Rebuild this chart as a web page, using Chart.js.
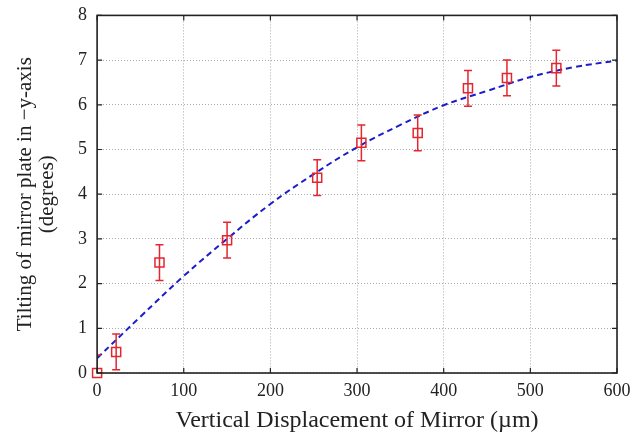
<!DOCTYPE html>
<html>
<head>
<meta charset="utf-8">
<script src="https://cdn.jsdelivr.net/npm/chart.js@4/dist/chart.umd.min.js"></script>
<style>
  body { margin: 0; background: #fff; }
  #wrap { width: 641px; height: 433px; }
</style>
</head>
<body>
<div id="wrap"><canvas id="chartTilt"></canvas></div>
<script>
// mért pontok
const dispX = [0, 22, 72, 150, 254, 305, 370, 428, 473, 530];
const tiltY = [0, 0.47, 2.47, 2.97, 4.37, 5.15, 5.37, 6.37, 6.60, 6.82];
const tiltErr = [0.4, 0.4, 0.4, 0.4, 0.4, 0.4, 0.4, 0.4, 0.4, 0.4];

// illesztett görbe (leolvasva)
const fitX = [0, 50, 100, 150, 200, 250, 300, 350, 400, 450, 500, 550, 600];
const fitY = [0.33, 1.26, 2.17, 3.0, 3.78, 4.45, 5.05, 5.55, 5.99, 6.31, 6.62, 6.84, 6.99];

const xTicks = [0, 100, 200, 300, 400, 500, 600];
const yTicks = [0, 1, 2, 3, 4, 5, 6, 7, 8];

const serif = "'Liberation Serif', 'DejaVu Serif', serif";

// hibasávok + keret + belső tick-ek
const extras = {
    id: 'extras',
    afterDatasetsDraw(chart) {
        const ctx = chart.ctx;
        const xs = chart.scales.x, ys = chart.scales.y;
        const a = chart.chartArea;
        ctx.save();
        ctx.beginPath();
        ctx.rect(a.left, a.top - 2, a.right - a.left, a.bottom - a.top + 2);
        ctx.clip();
        ctx.strokeStyle = '#e3262f';
        ctx.lineWidth = 1.5;
        dispX.forEach((x, i) => {
            const px = xs.getPixelForValue(x);
            const top = ys.getPixelForValue(tiltY[i] + tiltErr[i]);
            const bot = ys.getPixelForValue(tiltY[i] - tiltErr[i]);
            ctx.beginPath();
            ctx.moveTo(px, top); ctx.lineTo(px, bot);
            ctx.moveTo(px - 4, top); ctx.lineTo(px + 4, top);
            ctx.moveTo(px - 4, bot); ctx.lineTo(px + 4, bot);
            ctx.stroke();
        });
        ctx.restore();

        ctx.save();
        ctx.strokeStyle = '#222';
        ctx.lineWidth = 1.6;
        ctx.strokeRect(a.left, a.top, a.right - a.left, a.bottom - a.top);
        ctx.lineWidth = 1.2;
        ctx.beginPath();
        xTicks.forEach(v => {
            const px = xs.getPixelForValue(v);
            ctx.moveTo(px, a.bottom); ctx.lineTo(px, a.bottom - 5);
            ctx.moveTo(px, a.top); ctx.lineTo(px, a.top + 5);
        });
        yTicks.forEach(v => {
            const py = ys.getPixelForValue(v);
            ctx.moveTo(a.left, py); ctx.lineTo(a.left + 5, py);
            ctx.moveTo(a.right, py); ctx.lineTo(a.right - 5, py);
        });
        ctx.stroke();
        ctx.restore();
    }
};

const tiltCtx = document.getElementById('chartTilt').getContext('2d');
new Chart(tiltCtx, {
    type: 'scatter',
    data: {
        datasets: [{
            label: 'fit',
            data: fitX.map((x, i) => ({ x: x, y: fitY[i] })),
            showLine: true,
            borderColor: '#1c1ccc',
            borderWidth: 2,
            borderDash: [6, 4],
            tension: 0.4,
            pointRadius: 0,
            order: 2
        }, {
            label: 'mért',
            data: dispX.map((x, i) => ({ x: x, y: tiltY[i] })),
            pointStyle: 'rect',
            pointRadius: 6.4,
            pointBorderWidth: 1.5,
            borderColor: '#e3262f',
            backgroundColor: 'rgba(255,255,255,0)',
            clip: 8,
            order: 1
        }]
    },
    options: {
        responsive: true,
        maintainAspectRatio: false,
        animation: false,
        layout: { padding: { top: 15, right: 24, bottom: 0, left: 14 } },
        plugins: {
            legend: { display: false },
            tooltip: { enabled: false }
        },
        scales: {
            x: {
                type: 'linear',
                min: 0, max: 600,
                afterBuildTicks: s => { s.ticks = xTicks.map(v => ({ value: v })); },
                grid: { color: '#aaa', lineWidth: 1, drawTicks: false },
                border: { display: false, dash: [1, 2] },
                ticks: { color: '#222', font: { family: serif, size: 18, lineHeight: 1.0 }, padding: 9 },
                title: {
                    display: true,
                    text: 'Vertical Displacement of Mirror (µm)',
                    color: '#222',
                    font: { family: serif, size: 24, lineHeight: 1.0 },
                    padding: { top: 0, bottom: 0 }
                }
            },
            y: {
                type: 'linear',
                min: 0, max: 8,
                afterBuildTicks: s => { s.ticks = yTicks.map(v => ({ value: v })); },
                grid: { color: '#aaa', lineWidth: 1, drawTicks: false },
                border: { display: false, dash: [1, 2] },
                ticks: { color: '#222', font: { family: serif, size: 18, lineHeight: 0.6 }, padding: 10 },
                title: {
                    display: true,
                    text: ['Tilting of mirror plate in \u2212y-axis', '(degrees)'],
                    color: '#222',
                    font: { family: serif, size: 21, lineHeight: 1.05 },
                    padding: { top: 0, bottom: 10 }
                }
            }
        }
    },
    plugins: [extras]
});
</script>
</body>
</html>
